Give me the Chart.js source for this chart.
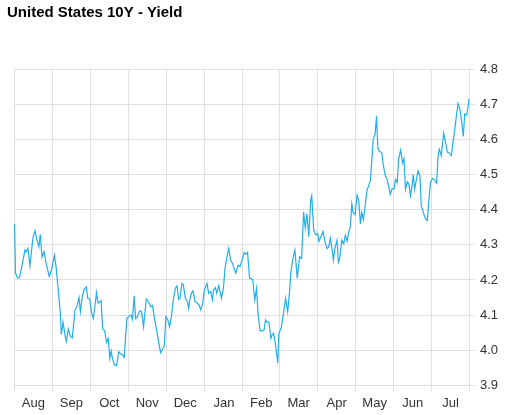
<!DOCTYPE html>
<html>
<head>
<meta charset="utf-8">
<title>United States 10Y - Yield</title>
<script src="https://cdn.jsdelivr.net/npm/chart.js@4.4.1/dist/chart.umd.min.js"></script>
<style>
  html, body { margin: 0; padding: 0; background: #fff; }
  #wrap { width: 511px; height: 415px; position: relative; }
</style>
</head>
<body>
<div id="wrap"><canvas id="yieldChart"></canvas></div>
<script>
const chartTitle = 'United States 10Y - Yield';

// month labels and the day each month starts (days counted from 1 Aug)
const monthLabels = ['Aug', 'Sep', 'Oct', 'Nov', 'Dec', 'Jan', 'Feb', 'Mar', 'Apr', 'May', 'Jun', 'Jul'];
const monthStartDays = [0, 31, 61, 92, 122, 153, 184, 213, 244, 274, 305, 335, 366];

// y axis range
const yMin = 3.9;
const yMax = 4.8;
const yStep = 0.1;

// daily readings (day since 1 Aug, yield %)
const days = [
  0.4, 1.2, 2.8, 4.4, 6.4, 8.8, 9.8, 11.2, 12.8, 15.2, 16.8, 18.4, 20.0, 21.1, 22.5, 24.1, 25.9, 28.3, 30.2, 32.4,
  33.7, 35.3, 37.2, 38.0, 39.4, 40.6, 42.0, 43.6, 45.2, 46.8, 49.0, 50.6, 52.2, 53.3, 54.9, 56.5, 58.1,
  59.2, 60.8, 62.1, 63.7, 65.4, 66.2, 67.5, 69.9, 71.2, 72.8, 74.2, 75.6, 76.9, 78.0, 79.0, 80.6, 82.3, 84.1, 85.5, 87.1,
  88.5, 90.6, 92.2, 94.1, 95.1, 96.5, 97.6, 99.2, 100.8, 102.4, 104.0, 106.2, 108.0, 109.9, 111.2, 112.8, 114.7, 116.3,
  117.7, 119.3, 120.7, 121.9, 123.5, 124.9,
  126.3, 127.9, 129.5, 130.8, 132.2, 133.2, 134.8, 135.9, 137.6, 139.2, 140.2, 141.3, 142.4, 143.7, 145.3, 146.9, 148.5,
  149.9, 151.5, 152.8, 154.9, 156.3, 157.9, 159.3, 160.1, 161.7, 162.7, 164.4, 166.5, 168.1, 169.4, 171.0, 172.4, 173.8,
  175.4, 176.7, 178.0, 179.9, 181.5, 183.1, 184.7, 186.3, 187.5, 189.1, 190.7, 191.7, 193.3, 194.7, 196.0, 197.6, 199.2,
  200.8, 201.9, 203.0, 204.6, 206.2, 207.3, 208.4, 210.0, 211.8, 212.6, 214.5, 216.1, 218.0, 219.7, 221.3, 222.3, 223.9,
  225.5, 227.4, 229.3, 230.9, 232.5, 233.8, 235.2, 236.6, 238.2, 239.0, 240.6, 242.2, 243.8, 244.8, 246.5, 248.1,
  249.7, 251.3, 252.7, 253.9, 255.3, 256.4, 257.7, 259.3, 260.4, 261.5, 263.1, 264.7, 266.0, 267.4, 269.0, 270.0, 271.2,
  272.2, 273.8, 275.4, 276.8, 278.1, 279.2, 280.5, 281.9, 283.5, 284.5, 286.1, 287.3, 288.3, 289.9, 291.0, 292.1, 293.4,
  295.3, 296.4, 298.0, 299.6, 300.9, 302.0, 303.6, 305.0, 306.3, 307.6, 308.7, 310.3, 311.9, 313.0, 314.3, 315.7, 317.0,
  318.3, 319.5, 320.5, 321.6, 322.9, 324.3, 325.9, 326.9, 328.6, 330.2, 331.8, 333.1, 334.4, 336.0, 337.7, 339.3, 340.4,
  341.4, 343.0, 344.9, 346.3, 347.9, 349.5, 351.1, 352.5, 353.8, 355.4, 356.5, 358.1, 359.4, 360.7, 361.8, 363.4, 364.5, 365.3
];
const yields = [
  4.36, 4.22, 4.205, 4.206, 4.24, 4.285, 4.28, 4.29, 4.24, 4.32, 4.34, 4.315, 4.295, 4.33, 4.265, 4.28, 4.245, 4.21, 4.23, 4.27,
  4.24, 4.18, 4.105, 4.045, 4.08, 4.05, 4.025, 4.06, 4.04, 4.035, 4.115, 4.125, 4.15, 4.11, 4.155, 4.175, 4.18,
  4.148, 4.146, 4.11, 4.09, 4.138, 4.164, 4.134, 4.141, 4.06, 4.056, 4.023, 4.034, 3.977, 3.998, 3.977, 3.958, 3.956, 3.996, 3.99, 3.987,
  3.98, 4.09, 4.096, 4.1, 4.088, 4.155, 4.09, 4.096, 4.112, 4.11, 4.067, 4.146, 4.138, 4.124, 4.127, 4.09, 4.053, 4.02,
  3.993, 4.003, 4.013, 4.096, 4.086, 4.067,
  4.094, 4.143, 4.176, 4.183, 4.145, 4.148, 4.19, 4.186, 4.148, 4.138, 4.119, 4.146, 4.162, 4.169, 4.138, 4.135, 4.129,
  4.115, 4.134, 4.171, 4.19, 4.162, 4.167, 4.143, 4.171, 4.178, 4.162, 4.184, 4.148, 4.176, 4.233, 4.266, 4.29, 4.257,
  4.247, 4.233, 4.219, 4.242, 4.238, 4.257, 4.278, 4.273, 4.278, 4.205, 4.203, 4.2, 4.143, 4.176, 4.1, 4.055, 4.055,
  4.058, 4.086, 4.08, 4.08, 4.034, 4.044, 4.048, 4.015, 3.963, 4.048, 4.063, 4.1, 4.148, 4.11, 4.171, 4.223, 4.261,
  4.285, 4.205, 4.266, 4.261, 4.394, 4.347, 4.389, 4.323, 4.427, 4.439, 4.342, 4.328, 4.332, 4.31, 4.324, 4.338,
  4.308, 4.289, 4.294, 4.319, 4.289, 4.256, 4.291, 4.313, 4.25, 4.261, 4.313, 4.303, 4.327, 4.31, 4.341, 4.35, 4.416,
  4.392, 4.386, 4.441, 4.425, 4.359, 4.392, 4.372, 4.411, 4.458, 4.465, 4.483, 4.542, 4.599, 4.615, 4.666, 4.575, 4.566,
  4.561, 4.528, 4.497, 4.486, 4.463, 4.444, 4.46, 4.458, 4.486, 4.477, 4.542, 4.569, 4.533, 4.545, 4.458, 4.479, 4.472,
  4.439, 4.467, 4.5, 4.458, 4.484, 4.51, 4.495, 4.411, 4.392, 4.374, 4.369, 4.43, 4.479, 4.489, 4.484, 4.475, 4.552,
  4.572, 4.554, 4.617, 4.594, 4.563, 4.561, 4.554, 4.594, 4.627, 4.674, 4.702, 4.683, 4.65, 4.608, 4.672, 4.669, 4.692, 4.715
];

// labels sit in the middle of each month, grid lines fall between them
const monthMidDays = monthLabels.map((m, i) => (monthStartDays[i] + monthStartDays[i + 1]) / 2);

const gridColor = '#e0e0e0';
const textColor = '#333';

// title drawn at the far left, like the original
const leftTitle = {
  id: 'leftTitle',
  afterDraw(chart) {
    const c = chart.ctx;
    c.save();
    c.font = 'bold 15px "Liberation Sans", Arial, sans-serif';
    c.fillStyle = '#000';
    c.textBaseline = 'alphabetic';
    c.textAlign = 'left';
    c.fillText(chartTitle, 7, 17);
    c.restore();
  }
};

const ctx = document.getElementById('yieldChart');

new Chart(ctx, {
  type: 'line',
  data: {
    datasets: [{
      label: chartTitle,
      data: days.map((d, i) => ({ x: d, y: yields[i] })),
      borderColor: '#22aeea',
      borderWidth: 1.2,
      pointRadius: 0,
      fill: false,
      tension: 0
    }]
  },
  options: {
    responsive: true,
    maintainAspectRatio: false,
    animation: false,
    layout: {
      padding: { top: 69, left: 14, right: 8, bottom: 0 }
    },
    plugins: {
      legend: { display: false },
      title: { display: false },
      tooltip: { enabled: false }
    },
    scales: {
      x: {
        type: 'linear',
        min: monthStartDays[0],
        max: monthStartDays[monthStartDays.length - 1],
        afterBuildTicks: scale => {
          scale.ticks = monthMidDays.map(v => ({ value: v }));
        },
        grid: {
          color: gridColor,
          offset: true,
          tickLength: 6
        },
        border: { color: gridColor },
        ticks: {
          autoSkip: false,
          maxRotation: 0,
          padding: 4,
          color: textColor,
          font: { family: '"Liberation Sans", Arial, sans-serif', size: 13 },
          callback: (v, i) => monthLabels[i]
        }
      },
      y: {
        position: 'right',
        min: yMin,
        max: yMax,
        grid: {
          color: gridColor,
          tickLength: 5
        },
        border: { color: gridColor },
        ticks: {
          stepSize: yStep,
          padding: 5,
          color: textColor,
          font: { family: '"Liberation Sans", Arial, sans-serif', size: 13 },
          callback: v => Number(v).toFixed(1)
        }
      }
    }
  },
  plugins: [leftTitle]
});
</script>
</body>
</html>
